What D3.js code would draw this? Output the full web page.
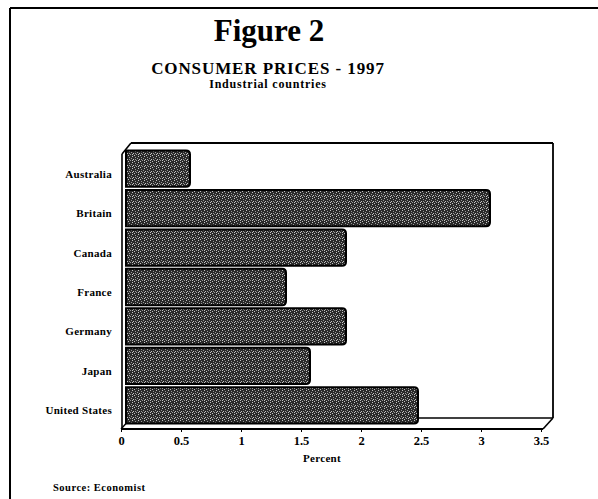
<!DOCTYPE html>
<html>
<head>
<meta charset="utf-8">
<script src="https://cdn.jsdelivr.net/npm/d3@7"></script>
<style>
  html, body { margin: 0; padding: 0; background: #fff; }
  svg { display: block; }
  text { font-family: "Liberation Serif", "Times New Roman", serif; font-weight: bold; fill: #000; }
</style>
</head>
<body>
<script>
// ---- data ----
const countries = ["Australia", "Britain", "Canada", "France", "Germany", "Japan", "United States"];
const values = [0.5, 3.0, 1.8, 1.3, 1.8, 1.5, 2.4];
const tickValues = [0, 0.5, 1, 1.5, 2, 2.5, 3, 3.5];
const tickLabels = ["0", "0.5", "1", "1.5", "2", "2.5", "3", "3.5"];
const titleText = "Figure 2";
const subtitleText = "CONSUMER PRICES - 1997";
const subsubText = "Industrial countries";
const axisTitle = "Percent";
const sourceText = "Source: Economist";

const W = 598, H = 499;
const svg = d3.select("body").append("svg").attr("width", W).attr("height", H);

// bar texture (halftone look)
const defs = svg.append("defs");
const pat = defs.append("pattern").attr("id", "stipple")
  .attr("width", 6).attr("height", 6).attr("patternUnits", "userSpaceOnUse");
pat.append("rect").attr("width", 6).attr("height", 6).attr("fill", "#2a2a2a");
[[0,0],[3,1],[1,3],[4,4],[2,5],[5,2],[0,4],[3,3]].forEach(([a,b], i) => {
  pat.append("rect").attr("x", a).attr("y", b).attr("width", 1).attr("height", 1)
    .attr("fill", i % 2 ? "#999" : "#c4c4c4");
});

// outer frame
svg.append("line").attr("x1", 10).attr("y1", 8).attr("x2", W).attr("y2", 8)
  .attr("stroke", "#000").attr("stroke-width", 2);
svg.append("line").attr("x1", 10).attr("y1", 8).attr("x2", 10).attr("y2", H)
  .attr("stroke", "#000").attr("stroke-width", 2);

// titles
svg.append("text").attr("x", 269).attr("y", 41).attr("text-anchor", "middle")
  .style("font-size", "31px").text(titleText);
svg.append("text").attr("x", 268).attr("y", 74).attr("text-anchor", "middle")
  .style("font-size", "17px").style("letter-spacing", "0.9px").text(subtitleText);
svg.append("text").attr("x", 268).attr("y", 88).attr("text-anchor", "middle")
  .style("font-size", "12px").style("letter-spacing", "0.8px").text(subsubText);

// scales
const x = d3.scaleLinear().domain([0, 3.5]).range([121, 541]);
const dx = 10, dy = -11;              // 3D depth offset
const xb = v => x(v) + dx - 1;        // back plane position
const floorY = 429;
const topY = 154;
const y = d3.scaleBand().domain(countries).range([149, 425])
  .paddingInner(0.08).paddingOuter(0.04);

const ln = (x1, y1, x2, y2, w) => svg.append("line")
  .attr("x1", x1).attr("y1", y1).attr("x2", x2).attr("y2", y2)
  .attr("stroke", "#000").attr("stroke-width", w || 1.6);

// back wall & floor
const backL = x(0) + dx, backR = x(3.5) + dx + 2;
ln(backL, topY + dy, backR, topY + dy, 1.8);            // back top
ln(backR, topY + dy, backR, floorY + dy, 1.8);          // right back edge
ln(backL, floorY + dy, backR, floorY + dy, 1.4);        // back floor
ln(x(0) + 1, topY, x(0) + 1, floorY, 1.6);             // left front edge
ln(x(0) + 1, topY, backL, topY + dy, 1.6);             // top-left diagonal
ln(x(0), floorY, backL, floorY + dy, 1.4);             // bottom-left diagonal
ln(x(3.5) + 2, floorY, backR, floorY + dy, 1.6);        // bottom-right diagonal

// bars
const bars = svg.append("g");
countries.forEach((c, i) => {
  bars.append("path")
    .attr("d", () => {
      const x0 = xb(0) - 4, x1 = xb(values[i]), y0 = y(c), h = y.bandwidth(), r = 4;
      return `M${x0},${y0} H${x1 - r} Q${x1},${y0} ${x1},${y0 + r} V${y0 + h - r} Q${x1},${y0 + h} ${x1 - r},${y0 + h} H${x0} Z`;
    })
    .attr("fill", "url(#stipple)")
    .attr("stroke", "#000").attr("stroke-width", 2);
});

// front floor line with axis
const axis = d3.axisBottom(x).tickValues(tickValues)
  .tickFormat((d, i) => tickLabels[i]).tickSize(3).tickPadding(4).tickSizeOuter(0);
const ag = svg.append("g").attr("transform", `translate(0,${floorY})`).call(axis);
ag.select(".domain").attr("stroke", "#000").attr("stroke-width", 1.8)
  .attr("d", `M${x(0)},0H${x(3.5) + 2}`);
ag.selectAll(".tick line").attr("stroke", "#000").attr("stroke-width", 1);
ag.selectAll(".tick text").style("font-size", "12.5px")
  .style("font-family", "'Liberation Serif', serif").style("font-weight", "bold");

// category labels
svg.append("g").selectAll("text").data(countries).join("text")
  .attr("x", 112).attr("y", d => y(d) + y.bandwidth() / 2 + 9)
  .attr("text-anchor", "end").style("font-size", "11px").style("letter-spacing", "0.3px")
  .text(d => d);

// axis title
svg.append("text").attr("x", 322).attr("y", 462).attr("text-anchor", "middle")
  .style("font-size", "11px").style("letter-spacing", "0.3px").text(axisTitle);

// source
svg.append("text").attr("x", 53).attr("y", 491)
  .style("font-size", "10.5px").style("letter-spacing", "0.5px").text(sourceText);
</script>
</body>
</html>
